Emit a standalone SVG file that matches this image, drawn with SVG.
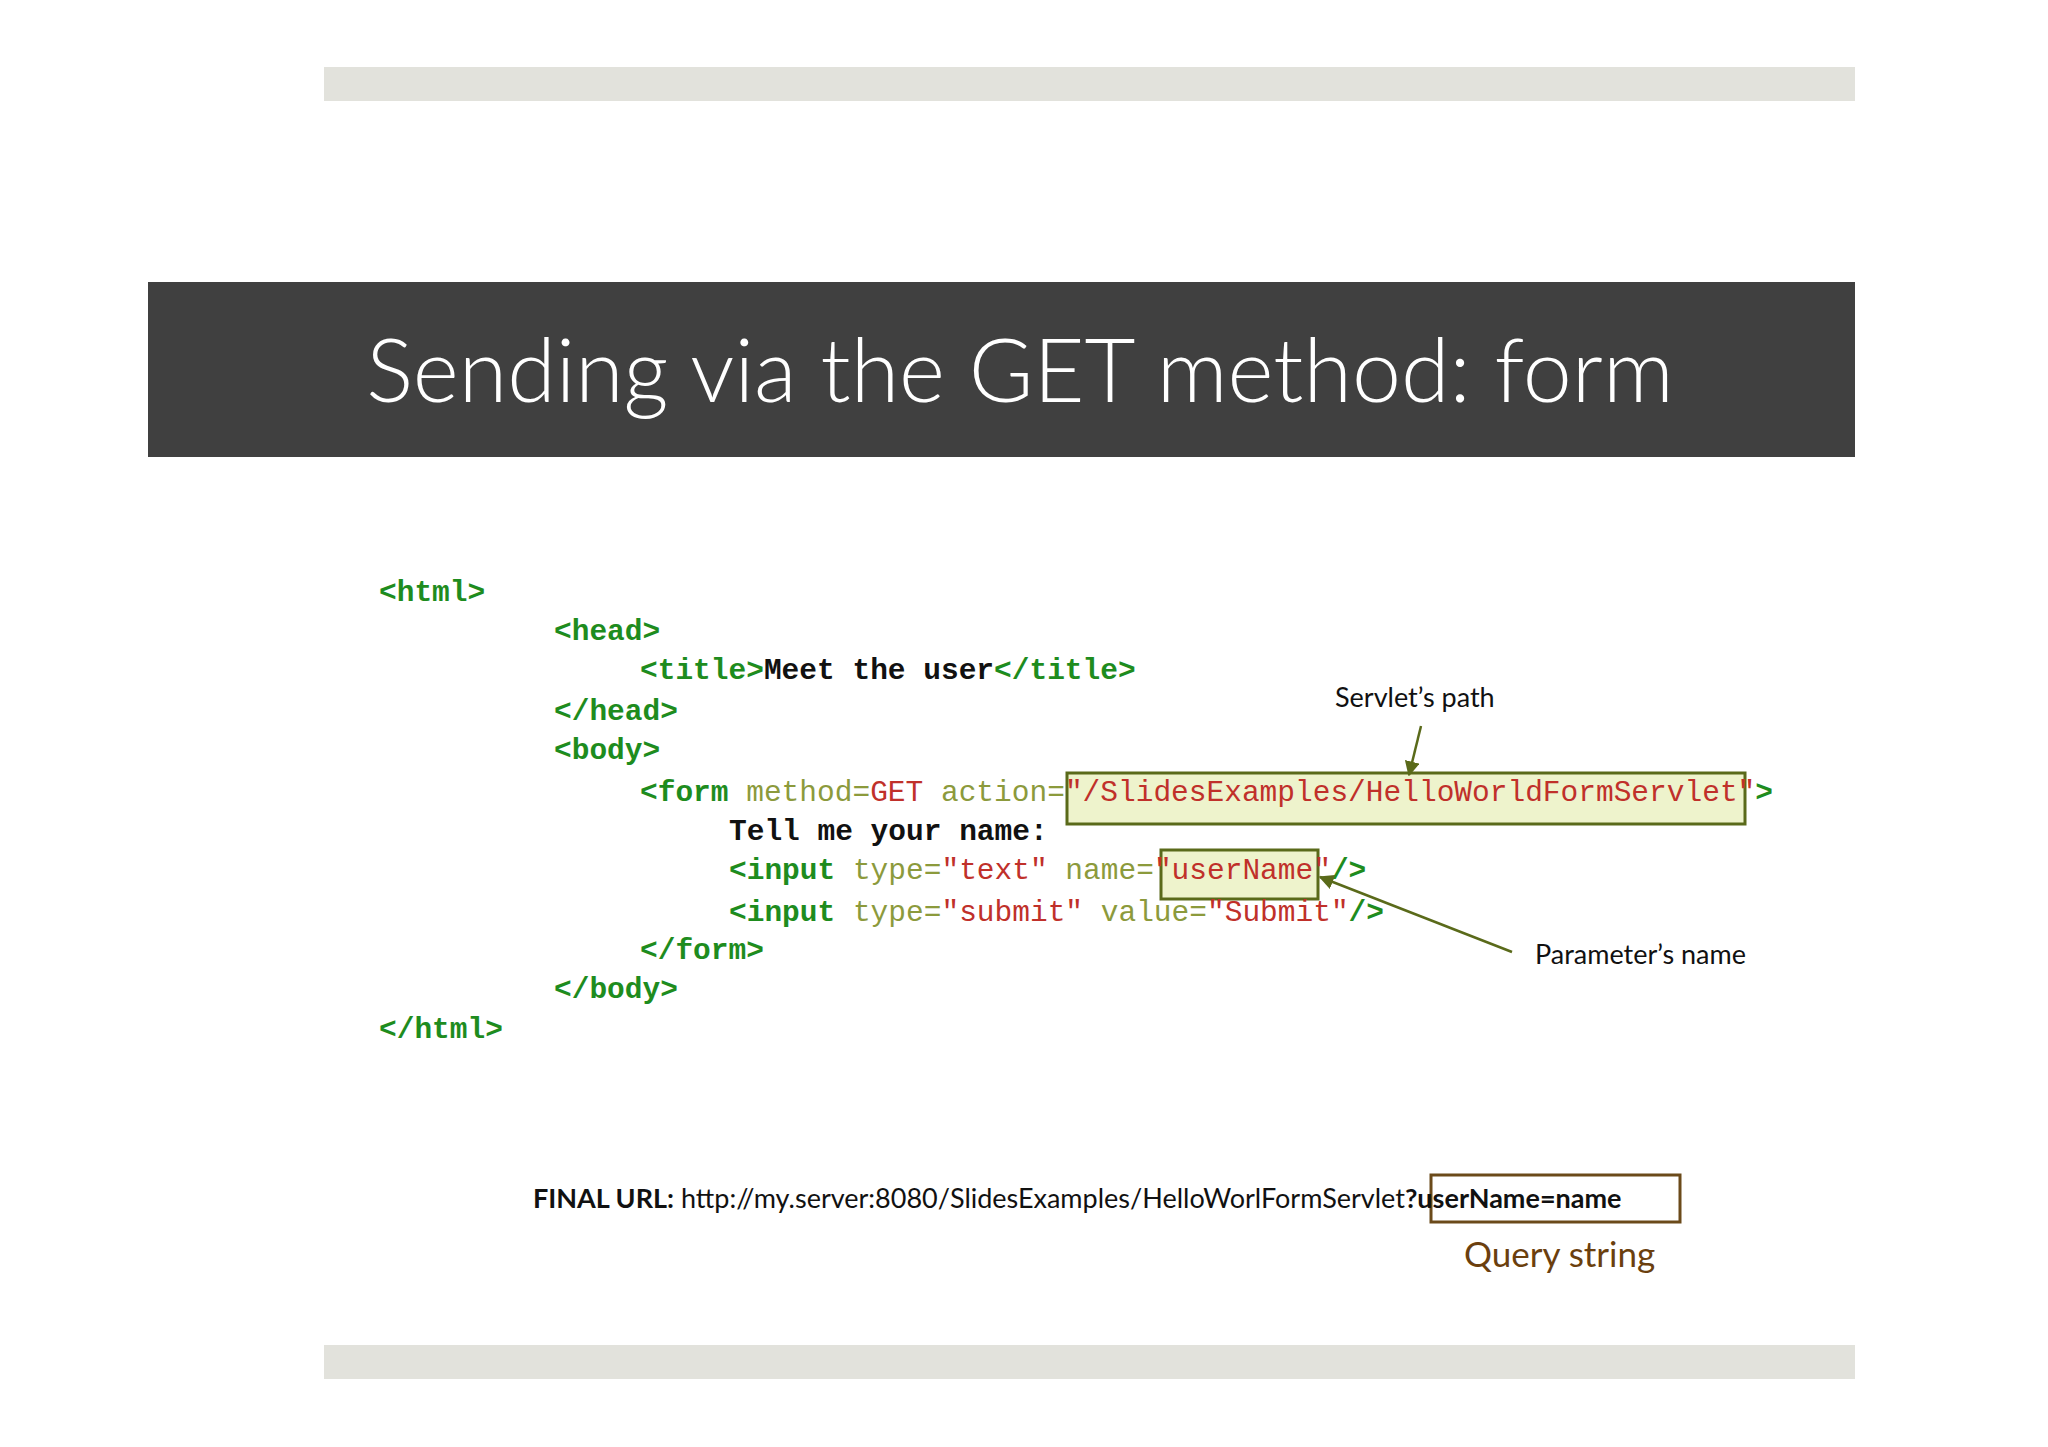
<svg xmlns="http://www.w3.org/2000/svg" width="2048" height="1447" viewBox="0 0 2048 1447">
<defs>
<style>
.code{font-family:"Liberation Mono","Courier New",monospace;font-size:29.5px;white-space:pre}
.t{fill:#1e8c1e;font-weight:bold}
.a{fill:#8c9a3c}
.v{fill:#c0302a}
.k{fill:#111;font-weight:bold}
.lbl{font-family:"Lato","Liberation Sans",sans-serif;font-size:27px;fill:#111}
.hl{fill:#eef3cc;stroke:#5a6a1a;stroke-width:3}
</style>
<marker id="ah" viewBox="0 0 10 10" refX="9" refY="5" markerWidth="6" markerHeight="6" orient="auto"><path d="M0,0 L10,5 L0,10 z" fill="#5a6a1a"/></marker>
</defs>
<rect width="2048" height="1447" fill="#fff"/>
<rect x="324" y="67" width="1531" height="34" fill="#e2e2dc"/>
<rect x="324" y="1345" width="1531" height="34" fill="#e2e2dc"/>
<g id="title">
<rect x="148" y="282" width="1707" height="175" fill="#404040"/>
<text x="1020" y="402" text-anchor="middle" font-family="Lato,'Liberation Sans',sans-serif" font-weight="300" font-size="88" fill="#fff">Sending via the GET method: form</text>
</g>
<g id="highlights">
<rect class="hl" x="1067" y="773" width="678" height="51"/>
<rect class="hl" x="1161" y="850" width="157" height="49"/>
</g>
<g id="code" class="code">
<text x="379" y="601"><tspan class="t">&lt;html&gt;</tspan></text>
<text x="554" y="640"><tspan class="t">&lt;head&gt;</tspan></text>
<text x="640" y="679"><tspan class="t">&lt;title&gt;</tspan><tspan class="k">Meet the user</tspan><tspan class="t">&lt;/title&gt;</tspan></text>
<text x="554" y="720"><tspan class="t">&lt;/head&gt;</tspan></text>
<text x="554" y="759"><tspan class="t">&lt;body&gt;</tspan></text>
<text x="640" y="801"><tspan class="t">&lt;form </tspan><tspan class="a">method=</tspan><tspan class="v">GET </tspan><tspan class="a">action=</tspan><tspan class="v">"/SlidesExamples/HelloWorldFormServlet"</tspan><tspan class="t">&gt;</tspan></text>
<text x="729" y="840"><tspan class="k">Tell me your name:</tspan></text>
<text x="729" y="879"><tspan class="t">&lt;input </tspan><tspan class="a">type=</tspan><tspan class="v">"text" </tspan><tspan class="a"> name=</tspan><tspan class="v">"userName"</tspan><tspan class="t">/&gt;</tspan></text>
<text x="729" y="921"><tspan class="t">&lt;input </tspan><tspan class="a">type=</tspan><tspan class="v">"submit" </tspan><tspan class="a"> value=</tspan><tspan class="v">"Submit"</tspan><tspan class="t">/&gt;</tspan></text>
<text x="640" y="959"><tspan class="t">&lt;/form&gt;</tspan></text>
<text x="554" y="998"><tspan class="t">&lt;/body&gt;</tspan></text>
<text x="379" y="1038"><tspan class="t">&lt;/html&gt;</tspan></text>
</g>
<g id="servlet-label"><text class="lbl" x="1335" y="707">Servlet’s path</text></g>
<g id="param-label"><text class="lbl" x="1535" y="964">Parameter’s name</text></g>
<g id="connectors" stroke="#5a6a1a" stroke-width="2.5" fill="none">
<line x1="1421" y1="726" x2="1409" y2="775" marker-end="url(#ah)"/>
<line x1="1512" y1="952" x2="1320" y2="877" marker-end="url(#ah)"/>
</g>
<g id="url">
<rect x="1431" y="1175" width="249" height="47" fill="none" stroke="#6b4a1a" stroke-width="3"/>
<text x="533" y="1208" font-family="Lato,'Liberation Sans',sans-serif" font-size="27" fill="#111"><tspan font-weight="bold">FINAL URL:</tspan> http://my.server:8080/SlidesExamples/HelloWorlFormServlet<tspan font-weight="bold">?userName=name</tspan></text>
<text x="1464" y="1267" font-family="Lato,'Liberation Sans',sans-serif" font-size="35" fill="#6b3f0e">Query string</text>
</g>
</svg>
